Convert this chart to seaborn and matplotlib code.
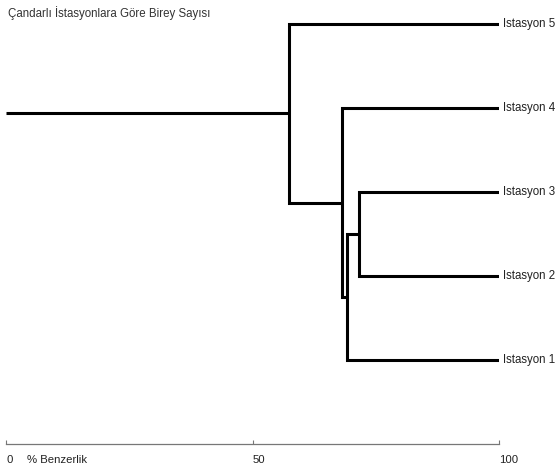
import matplotlib
matplotlib.use("Agg")
import matplotlib.pyplot as plt
import seaborn as sns
import pandas as pd

# ---- data ----
title = "Çandarlı İstasyonlara Göre Birey Sayısı"
leaves = ["Istasyon 1", "Istasyon 2", "Istasyon 3", "Istasyon 4", "Istasyon 5"]  # bottom -> top
merge_left = ["Istasyon 2", "Istasyon 1", "C2", "Istasyon 5"]
merge_right = ["Istasyon 3", "C1", "Istasyon 4", "C3"]
merge_sim = [71.5, 69.2, 68.1, 57.3]   # % similarity of each merge
x_ticks = [0, 50, 100]
x_label = "% Benzerlik"

# ---- build dendrogram paths ----
nodes = {name: (100.0, float(i)) for i, name in enumerate(leaves)}
rows = []
seg = 0
for k, (a, b, s) in enumerate(zip(merge_left, merge_right, merge_sim), start=1):
    xa, ya = nodes[a]
    xb, yb = nodes[b]
    for px, py in [(xa, ya), (s, ya), (s, yb), (xb, yb)]:
        rows.append({"x": px, "y": py, "seg": seg})
    seg += 1
    nodes[f"C{k}"] = (s, (ya + yb) / 2)
root_x, root_y = nodes[f"C{len(merge_sim)}"]
rows += [{"x": root_x, "y": root_y, "seg": seg}, {"x": 0.0, "y": root_y, "seg": seg}]
df = pd.DataFrame(rows)

sns.set_theme(style="white")
plt.rcParams["font.family"] = ["Liberation Sans", "DejaVu Sans"]

fig = plt.figure(figsize=(5.56, 4.73), dpi=100)
ax = fig.add_axes([6.3 / 556, 1 - 444 / 473, 493 / 556, (444 - 20) / 473])

sns.lineplot(data=df, x="x", y="y", units="seg", estimator=None, sort=False,
             color="black", linewidth=2.2, ax=ax, legend=False,
             solid_joinstyle="miter", solid_capstyle="butt")

ax.set_xlim(0, 100)
ax.set_ylim(-1.0, 4.05)
ax.set_xlabel("")
ax.set_ylabel("")
ax.set_yticks([])
ax.set_xticks(x_ticks)
ax.set_xticklabels([str(t) for t in x_ticks], ha="left")
ax.tick_params(axis="x", direction="in", length=3, width=0.8, color="#777777",
               labelsize=8.2, labelcolor="#222222", pad=8, bottom=True)
for sp in ["top", "left", "right"]:
    ax.spines[sp].set_visible(False)
ax.spines["bottom"].set_color("#777777")
ax.spines["bottom"].set_linewidth(0.9)

for i, name in enumerate(leaves):
    ax.text(100.7, i, name, ha="left", va="center", fontsize=8.3,
            color="#222222", clip_on=False)

ax.text(4.2, -1.185, x_label, ha="left", va="center", fontsize=8.2,
        color="#222222", clip_on=False)

fig.text(8 / 556, 1 - 13 / 473, title, ha="left", va="center",
         fontsize=8.3, color="#333333")

fig.savefig("out.png", dpi=100)
